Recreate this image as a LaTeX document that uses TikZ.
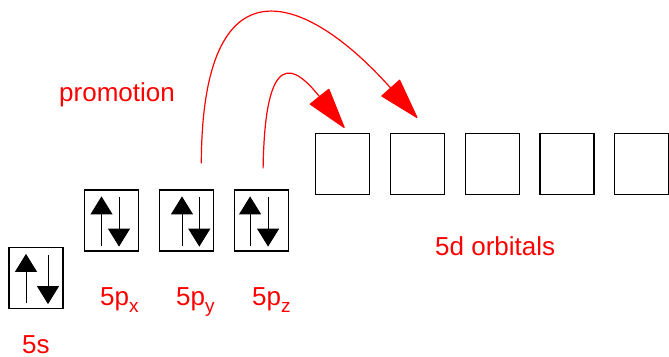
\documentclass[tikz,border=0pt]{standalone}
\usepackage{fontspec}
\setmainfont{Liberation Sans}
\usetikzlibrary{arrows.meta,positioning}

\newcommand{\orbsub}[1]{\raisebox{-7pt}{\fontsize{19}{19}\selectfont #1}}

\begin{document}
\begin{tikzpicture}[x=1pt,y=-1pt,
    node distance=19.6pt,
    orb/.style={draw,line width=1.2pt,minimum width=54pt,minimum height=61pt,inner sep=0pt},
    lbl/.style={text=red,font=\fontsize{26}{30}\selectfont,anchor=base west,inner sep=0pt},
    spin/.style={-{Triangle[length=18pt,width=22pt]},line width=0.9pt},
    promo/.style={red,line width=1.2pt,-{Triangle[length=42pt,width=25pt,round]}}
  ]
    \useasboundingbox (0,0) rectangle (669,356);
    % filled orbitals
    \node[orb] (s) at (36,278) {};
    \node[orb] (px) at (111.5,220.5) {};
    \node[orb,right=of px] (py) {};
    \node[orb,right=of py] (pz) {};
    % empty d orbitals
    \node[orb] (d1) at (342.5,164) {};
    \node[orb,right=of d1] (d2) {};
    \node[orb,right=of d2] (d3) {};
    \node[orb,right=of d3] (d4) {};
    \node[orb,right=of d4] (d5) {};
    % paired spins
    \foreach \b/\u/\d in {s/-10/12,px/-10/7.5,py/-4.3/13,pz/-11/7}{
      \draw[spin] ([xshift=\u pt,yshift=6pt]\b.south) -- ([xshift=\u pt,yshift=-7pt]\b.north);
      \draw[spin] ([xshift=\d pt,yshift=-8pt]\b.north) -- ([xshift=\d pt,yshift=5pt]\b.south);
    }
    % labels
    \node[lbl] (ls) at (22,353) {5s};
    \node[lbl] (lpx) at (100,305) {5p\orbsub{x}};
    \node[lbl] (lpy) at (176,305) {5p\orbsub{y}};
    \node[lbl] (lpz) at (252,305) {5p\orbsub{z}};
    \node[lbl] (ld) at (435,255) {5d orbitals};
    \node[lbl] (lpromo) at (59,101) {promotion};
    % promotion arrows
    \coordinate (fromy) at ([xshift=15pt,yshift=26pt]py.north);
    \coordinate (fromz) at ([xshift=2pt,yshift=21pt]pz.north);
    \draw[promo] (fromy) .. controls (202,-45) and (305,-8) .. ([yshift=15pt]d2.north);
    \draw[promo] (fromz) .. controls (265,45) and (295,66) .. ([xshift=2pt,yshift=5pt]d1.north);
  \end{tikzpicture}
\end{document}
